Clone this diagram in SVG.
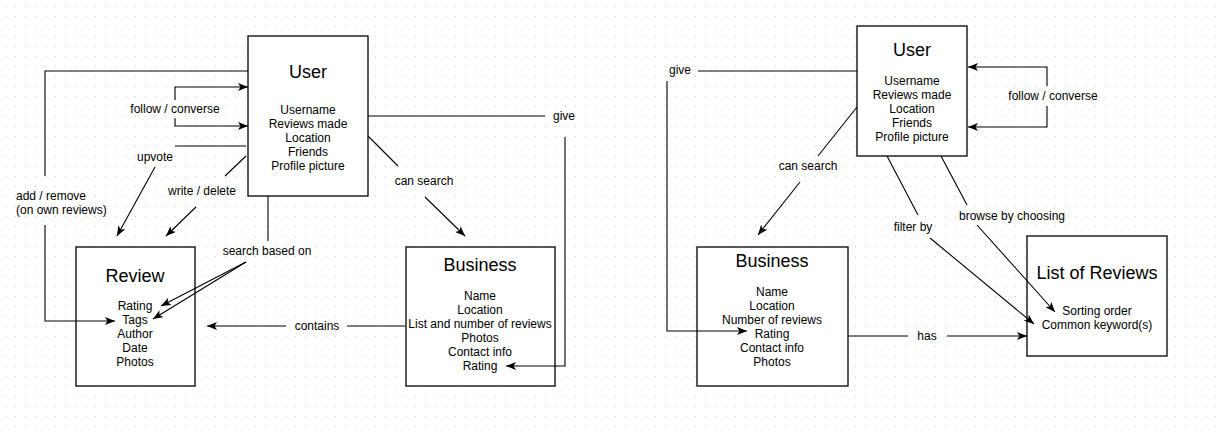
<svg xmlns="http://www.w3.org/2000/svg" width="1221" height="433" viewBox="0 0 1221 433">
  <defs>
    <pattern id="grid" x="0" y="1" width="10" height="10" patternUnits="userSpaceOnUse">
      <rect x="5" y="5" width="1" height="1" fill="#cccccc"/>
    </pattern>
    <marker id="arr" viewBox="0 0 10 8" refX="10" refY="4" markerWidth="10" markerHeight="8" markerUnits="userSpaceOnUse" orient="auto">
      <path d="M0,0 L10,4 L0,8 L2.5,4 Z" fill="#000"/>
    </marker>
    <style>
      .box { fill: #fff; stroke: #000; stroke-width: 1.3; }
      .title { font-family: "Liberation Sans", Arial, sans-serif; font-size: 18px; text-anchor: middle; fill: #000; }
      .attr { font-family: "Liberation Sans", Arial, sans-serif; font-size: 12px; text-anchor: middle; fill: #000; }
      .lbl { font-family: "Liberation Sans", Arial, sans-serif; font-size: 12px; text-anchor: middle; fill: #000; }
      .lbl-l { font-family: "Liberation Sans", Arial, sans-serif; font-size: 12px; text-anchor: start; fill: #000; }
      .edge { fill: none; stroke: #000; stroke-width: 1.1; }
      .arrow { marker-end: url(#arr); }
    </style>
  </defs>
  <rect x="0" y="0" width="1221" height="433" fill="#fff"/>
  <rect x="0" y="0" width="1221" height="433" fill="url(#grid)"/>

  <g id="user-left">
    <rect class="box" x="248" y="36" width="120" height="160"/>
    <text class="title" x="308" y="78">User</text>
    <text class="attr" x="308" y="114">Username</text>
    <text class="attr" x="308" y="128">Reviews made</text>
    <text class="attr" x="308" y="142">Location</text>
    <text class="attr" x="308" y="156">Friends</text>
    <text class="attr" x="308" y="170">Profile picture</text>
  </g>

  <g id="review">
    <rect class="box" x="76" y="247" width="119" height="139"/>
    <text class="title" x="135" y="282">Review</text>
    <text class="attr" x="135" y="310">Rating</text>
    <text class="attr" x="135" y="324">Tags</text>
    <text class="attr" x="135" y="338">Author</text>
    <text class="attr" x="135" y="352">Date</text>
    <text class="attr" x="135" y="366">Photos</text>
  </g>

  <g id="business-left">
    <rect class="box" x="406" y="247" width="149" height="139"/>
    <text class="title" x="480" y="271">Business</text>
    <text class="attr" x="480" y="300">Name</text>
    <text class="attr" x="480" y="314">Location</text>
    <text class="attr" x="480" y="328">List and number of reviews</text>
    <text class="attr" x="480" y="342">Photos</text>
    <text class="attr" x="480" y="356">Contact info</text>
    <text class="attr" x="480" y="370">Rating</text>
  </g>

  <g id="user-right">
    <rect class="box" x="857" y="26" width="110" height="130"/>
    <text class="title" x="912" y="56">User</text>
    <text class="attr" x="912" y="85">Username</text>
    <text class="attr" x="912" y="99">Reviews made</text>
    <text class="attr" x="912" y="113">Location</text>
    <text class="attr" x="912" y="127">Friends</text>
    <text class="attr" x="912" y="141">Profile picture</text>
  </g>

  <g id="business-right">
    <rect class="box" x="697" y="247" width="151" height="139"/>
    <text class="title" x="772" y="267">Business</text>
    <text class="attr" x="772" y="296">Name</text>
    <text class="attr" x="772" y="310">Location</text>
    <text class="attr" x="772" y="324">Number of reviews</text>
    <text class="attr" x="772" y="338">Rating</text>
    <text class="attr" x="772" y="352">Contact info</text>
    <text class="attr" x="772" y="366">Photos</text>
  </g>

  <g id="list-of-reviews">
    <rect class="box" x="1027" y="236" width="140" height="120"/>
    <text class="title" x="1097" y="279">List of Reviews</text>
    <text class="attr" x="1097" y="315">Sorting order</text>
    <text class="attr" x="1097" y="329">Common keyword(s)</text>
  </g>

  <g id="connectors">
    <!-- left diagram -->
    <path class="edge" d="M248,71 H45 V176"/>
    <path class="edge arrow" d="M45,225 V321 H115"/>
    <path class="edge arrow" d="M175,100 V87 H248"/>
    <path class="edge arrow" d="M175,118 V126 H248"/>
    <path class="edge" d="M246,146 H175"/>
    <path class="edge arrow" d="M155,167 L117,236"/>
    <path class="edge" d="M246,156 L225,176"/>
    <path class="edge arrow" d="M196,207 L166,236"/>
    <path class="edge" d="M268,196 V241"/>
    <path class="edge arrow" d="M246,262 L161,306"/>
    <path class="edge arrow" d="M246,262 L153,319"/>
    <path class="edge" d="M405,326 H347"/>
    <path class="edge arrow" d="M286,326 H207"/>
    <path class="edge" d="M368,116 H545"/>
    <path class="edge arrow" d="M565,137 V366 H506"/>
    <path class="edge" d="M368,136 L398,166"/>
    <path class="edge arrow" d="M425,197 L465,236"/>
    <!-- right diagram -->
    <path class="edge" d="M857,71 H698"/>
    <path class="edge arrow" d="M667,81 V331 H747"/>
    <path class="edge arrow" d="M1047,86 V67 H968"/>
    <path class="edge arrow" d="M1047,106 V127 H968"/>
    <path class="edge" d="M857,107 L818,156"/>
    <path class="edge arrow" d="M800,182 L758,235"/>
    <path class="edge" d="M887,156 L918,215"/>
    <path class="edge arrow" d="M930,238 L1034,324"/>
    <path class="edge" d="M941,156 L967,205"/>
    <path class="edge arrow" d="M977,225 L1055,312"/>
    <path class="edge" d="M848,336 H908"/>
    <path class="edge arrow" d="M947,336 H1027"/>
  </g>

  <g id="edge-labels">
    <text class="lbl" x="175" y="113">follow / converse</text>
    <text class="lbl" x="155" y="161">upvote</text>
    <text class="lbl-l" x="16" y="200">add / remove</text>
    <text class="lbl-l" x="16" y="214">(on own reviews)</text>
    <text class="lbl" x="202" y="195">write / delete</text>
    <text class="lbl" x="267" y="255">search based on</text>
    <text class="lbl" x="317" y="330">contains</text>
    <text class="lbl" x="424" y="185">can search</text>
    <text class="lbl" x="564" y="120">give</text>
    <text class="lbl" x="680" y="74">give</text>
    <text class="lbl" x="1053" y="100">follow / converse</text>
    <text class="lbl" x="808" y="170">can search</text>
    <text class="lbl" x="913" y="231">filter by</text>
    <text class="lbl" x="1012" y="220">browse by choosing</text>
    <text class="lbl" x="927" y="340">has</text>
  </g>
</svg>
